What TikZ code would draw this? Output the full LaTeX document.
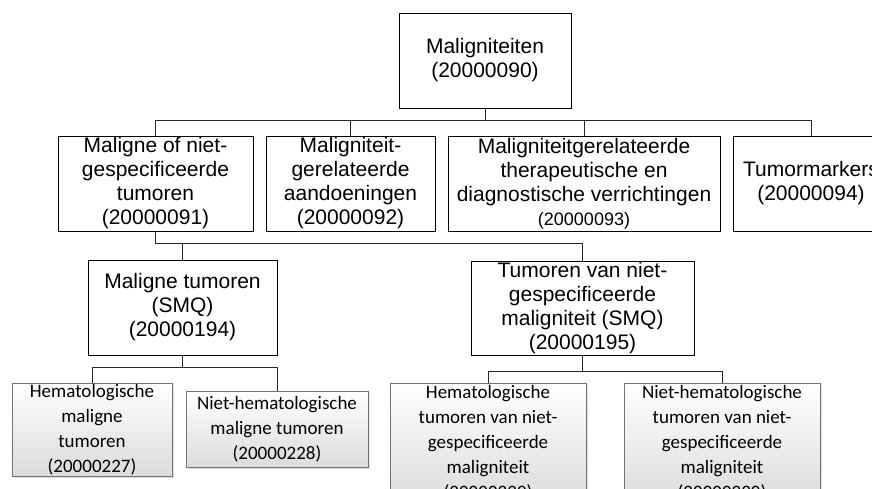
\documentclass[tikz,border=0pt]{standalone}
\usepackage{fontspec}
\setmainfont{Liberation Sans}
\newfontfamily\calibri{Carlito}
\usetikzlibrary{shadows}

\begin{document}
\begin{tikzpicture}[x=1pt, y=-1pt,
		box/.style={draw, line width=0.8pt, inner sep=0pt, align=center, font=\fontsize{21}{24}\selectfont},
		leaf/.style={draw=gray!90!black, line width=0.8pt, inner sep=0pt, align=center, top color=white, bottom color=gray!28, drop shadow={opacity=0.25, shadow xshift=1.5pt, shadow yshift=-1.5pt}, font=\calibri\fontsize{19}{25}\selectfont},
		link/.style={line width=1pt, color=black!85}]
		\clip (0,0) rectangle (872,489);
		\node[box, minimum width=172, minimum height=95] (mal) at (485,60.5) {Maligniteiten\\(20000090)};
		\node[box, minimum width=195, minimum height=95] (mnt) at (155.5,183.5) {Maligne of niet-\\gespecificeerde\\tumoren\\(20000091)};
		\node[box, minimum width=169, minimum height=95] (mga) at (350.5,183.5) {Maligniteit-\\gerelateerde\\aandoeningen\\(20000092)};
		\node[box, minimum width=272, minimum height=95] (mtd) at (584,183.5) {Maligniteitgerelateerde\\therapeutische en\\diagnostische verrichtingen\\{\fontsize{18}{21}\selectfont (20000093)}};
		\node[box, minimum width=156, minimum height=95] (tmk) at (811,183.5) {Tumormarkers\\(20000094)};
		\node[box, minimum width=189, minimum height=95] (mtsmq) at (182.5,307.5) {Maligne tumoren\\(SMQ)\\(20000194)};
		\node[box, minimum width=223, minimum height=94] (tnsmq) at (582.5,308) {Tumoren van niet-\\gespecificeerde\\maligniteit (SMQ)\\(20000195)};
		\node[leaf, minimum width=160, minimum height=93] (hmt) at (92,429.5) {Hematologische\\maligne\\tumoren\\(20000227)};
		\node[leaf, minimum width=182, minimum height=76] (nhmt) at (277,429) {Niet-hematologische\\maligne tumoren\\(20000228)};
		\node[leaf, minimum width=196, minimum height=121] (htn) at (488,443.5) {Hematologische\\tumoren van niet-\\gespecificeerde\\maligniteit\\(20000229)};
		\node[leaf, minimum width=196, minimum height=121] (nhtn) at (722,443.5) {Niet-hematologische\\tumoren van niet-\\gespecificeerde\\maligniteit\\(20000230)};
		% verbindingen
		\foreach \kind in {mnt,mga,mtd,tmk}
			\draw[link] (mal.south) -- ++(0,12) -| (\kind.north);
		\foreach \kind in {mtsmq,tnsmq}
			\draw[link] (mnt.south) -- ++(0,12) -| (\kind.north);
		\foreach \kind in {hmt,nhmt}
			\draw[link] (mtsmq.south) -- ++(0,12) -| (\kind.north);
		\foreach \kind in {htn,nhtn}
			\draw[link] (tnsmq.south) -- ++(0,16) -| (\kind.north);
	\end{tikzpicture}
\end{document}
